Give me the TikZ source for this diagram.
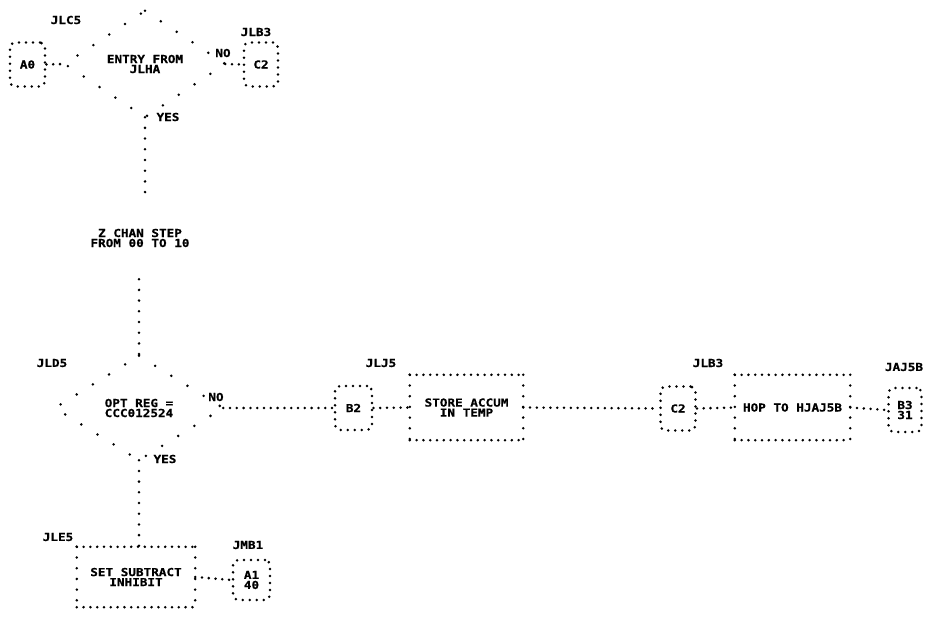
\documentclass[tikz,border=0pt]{standalone}
\usepackage{fontspec}
\newfontfamily\pf[FakeStretch=1.15, BoldFeatures={FakeBold=0.6}]{DejaVu Sans Mono}
\newcommand\dotrect[1]{%
  \draw[hd] (#1.north west) -- (#1.north east) (#1.south west) -- (#1.south east);
  \draw[vd] (#1.north west) -- (#1.south west) (#1.north east) -- (#1.south east);}
\begin{document}
\begin{tikzpicture}[x=1pt,y=-1pt,
  txt/.style={font=\pf\bfseries\fontsize{11}{10}\selectfont, align=center, inner sep=0pt},
  hd/.style={line width=2.8pt, line cap=round, dash pattern=on 0pt off 6.8pt},
  vd/.style={line width=2.8pt, line cap=round, dash pattern=on 0pt off 10.7pt},
  dd/.style={line width=2.8pt, line cap=round, dash pattern=on 0pt off 19pt},
  conn/.style={txt, draw, line width=2.8pt, line cap=round, dash pattern=on 0pt off 7pt,
    rounded corners=5pt, minimum width=35pt, minimum height=44pt},
  proc/.style={txt}]
\fill[white] (0,0) rectangle (934,628);
\useasboundingbox (0,0) rectangle (934,628);

% top decision
\node[txt, minimum width=160pt, minimum height=106pt] (d1) at (145,64) {ENTRY FROM\\JLHA};
\draw[dd] (d1.north) -- (d1.east) -- (d1.south) -- (d1.west) -- cycle;
\node[txt] (lc5) at (66,20) {JLC5};
\node[conn] (a0) at (27.5,64.5) {A0};
\node[conn, minimum width=34pt] (c2a) at (261,64.5) {C2};
\node[txt] (lb3a) at (256,32) {JLB3};
\node[txt] (no1) at (223,53) {NO};
\node[txt] (yes1) at (168,117) {YES};
\draw[hd] (a0.east) -- (d1.west);
\draw[hd] (d1.east) -- (c2a.west);

% step text
\node[txt, minimum height=82pt] (zc) at (140,238) {Z CHAN STEP\\FROM 00 TO 10};
\draw[vd] (d1.south) -- (d1.south |- zc.north);

% second decision
\node[txt, minimum width=168pt, minimum height=104pt] (d2) at (139,408) {OPT REG =\\CCC012524};
\draw[dd] (d2.north) -- (d2.east) -- (d2.south) -- (d2.west) -- cycle;
\draw[vd] (d2.north |- zc.south) -- (d2.north);
\node[txt] (ld5) at (52,363) {JLD5};
\node[txt] (no2) at (216,397) {NO};
\node[txt] (yes2) at (165,459) {YES};

% row to the right
\node[conn, minimum width=37pt] (b2) at (353.5,408) {B2};
\node[txt] (lj5) at (381,363) {JLJ5};
\node[proc, minimum width=113pt, minimum height=65pt] (st) at (466.5,407.5) {STORE ACCUM\\IN TEMP};
\dotrect{st}
\node[conn] (c2b) at (678,408.5) {C2};
\node[txt] (lb3b) at (708,363) {JLB3};
\node[proc, minimum width=115pt, minimum height=65pt] (hop) at (792.5,407.5) {HOP TO HJAJ5B};
\dotrect{hop}
\node[conn, minimum width=33pt] (b3) at (905,410) {B3\\31};
\node[txt] (lj5b) at (904,367) {JAJ5B};
\draw[hd] (d2.east) -- (b2.west);
\draw[hd] (b2.east) -- (st.west);
\draw[hd] (st.east) -- (c2b.west);
\draw[hd] (c2b.east) -- (hop.west);
\draw[hd] (hop.east) -- (b3.west);

% bottom
\node[proc, minimum width=118pt, minimum height=60pt] (se) at (136,577) {SET SUBTRACT\\INHIBIT};
\dotrect{se}
\node[txt] (le5) at (58,537) {JLE5};
\node[conn, minimum width=37pt, minimum height=40pt] (a1) at (251.5,580) {A1\\40};
\node[txt] (mb1) at (248,545) {JMB1};
\draw[vd] (d2.south) -- (d2.south |- se.north);
\draw[hd] (se.east) -- (a1.west);
\end{tikzpicture}
\end{document}
